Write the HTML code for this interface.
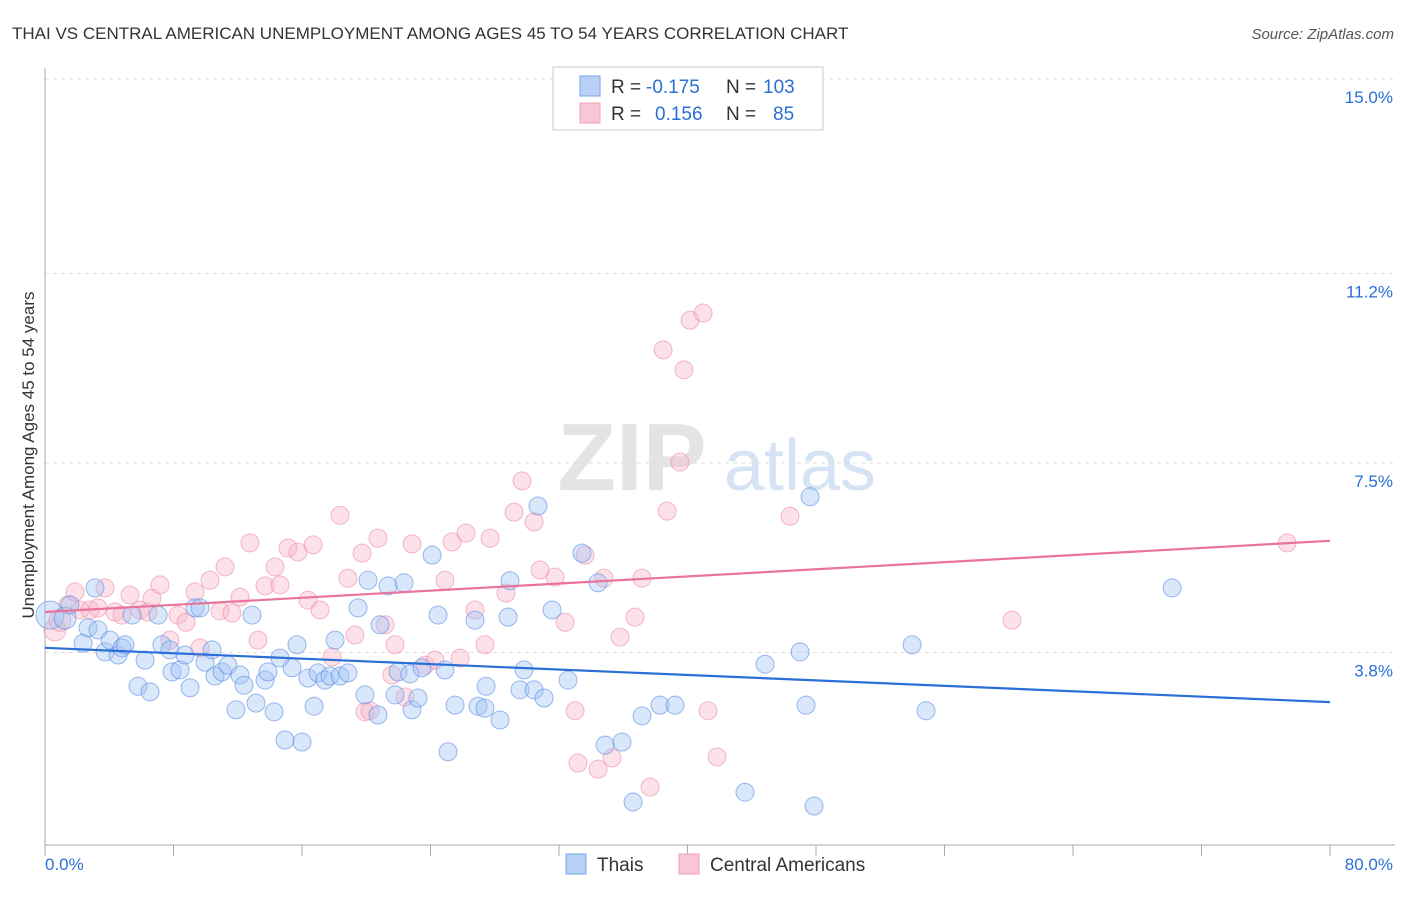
<!DOCTYPE html>
<html><head><meta charset="utf-8"><style>
body{margin:0;background:#fff;font-family:"Liberation Sans",sans-serif;}
svg text{font-family:"Liberation Sans",sans-serif;}
</style></head><body>
<svg id="chart" width="1406" height="892" viewBox="0 0 1406 892" xmlns="http://www.w3.org/2000/svg">
<text x="12" y="39" font-size="17" fill="#333">THAI VS CENTRAL AMERICAN UNEMPLOYMENT AMONG AGES 45 TO 54 YEARS CORRELATION CHART</text>
<text x="1394" y="39" font-size="15" fill="#555" text-anchor="end" font-style="italic">Source: ZipAtlas.com</text>
<g>
<text x="632" y="490" font-size="96" fill="#e4e4e4" text-anchor="middle" font-family="Liberation Serif,serif" font-weight="bold">ZIP</text>
<text x="800" y="490" font-size="72" fill="#d6e3f5" text-anchor="middle">atlas</text>
</g>
<g id="grid"></g>
<g id="axes"></g>
<g id="pts"></g>
<g id="lines"></g>
<text x="34" y="455" font-size="17" fill="#333" text-anchor="middle" transform="rotate(-90 34 455)">Unemployment Among Ages 45 to 54 years</text>
<g>
<rect x="553" y="67" width="270" height="63" fill="#fff" stroke="#ccc"/>
<rect x="580" y="76" width="20" height="20" fill="#b8d0f5" stroke="#7aa6e8"/>
<rect x="580" y="103" width="20" height="20" fill="#f9c6d6" stroke="#f0a0b8"/>
<text y="93" font-size="19" fill="#333"><tspan x="611">R =</tspan><tspan x="646" fill="#2a6fd6">-0.175</tspan><tspan x="726">N =</tspan><tspan x="763" fill="#2a6fd6">103</tspan></text>
<text y="120" font-size="19" fill="#333"><tspan x="611">R =</tspan><tspan x="655" fill="#2a6fd6">0.156</tspan><tspan x="726">N =</tspan><tspan x="773" fill="#2a6fd6">85</tspan></text>
</g>
<g>
<rect x="566" y="854" width="20" height="20" fill="#b8d0f5" stroke="#7aa6e8"/>
<text x="597" y="871" font-size="19" fill="#333">Thais</text>
<rect x="679" y="854" width="20" height="20" fill="#f9c6d6" stroke="#f0a0b8"/>
<text x="710" y="871" font-size="19" fill="#333">Central Americans</text>
</g>
</svg>
<script>
const yTicks=[15.0,11.2,7.5,3.8];
const yTickLabels=["15.0%","11.2%","7.5%","3.8%"];
const xTickLabels=["0.0%","80.0%"];
const thaiX=[0.31,1.25,1.56,2.37,2.68,3.11,3.30,3.74,4.05,4.55,4.79,4.98,5.42,5.79,6.23,6.54,7.04,7.28,7.78,7.91,8.41,8.72,9.03,9.34,9.65,9.96,10.40,10.58,11.02,11.39,11.89,12.14,12.39,12.89,13.14,13.70,13.88,14.26,14.63,14.94,15.38,15.69,16.00,16.37,16.75,17.00,17.43,17.74,18.06,18.37,18.86,19.49,19.92,20.11,20.73,20.86,21.36,21.79,21.98,22.35,22.72,22.85,23.22,23.47,24.10,24.47,24.90,25.09,25.53,26.77,26.96,27.39,27.46,28.33,28.83,28.95,29.57,29.82,30.45,30.69,31.07,31.57,32.56,33.43,34.43,34.87,35.92,36.61,37.17,38.29,39.22,43.58,44.83,47.01,47.38,47.63,47.88,53.98,54.85,70.17];
const thaiY=[4.53,4.47,4.73,3.98,4.28,5.06,4.24,3.81,4.04,3.75,3.89,3.95,4.53,3.14,3.65,3.03,4.53,3.95,3.85,3.42,3.46,3.75,3.11,4.67,4.67,3.61,3.85,3.34,3.42,3.55,2.68,3.36,3.16,4.53,2.81,3.26,3.42,2.64,3.69,2.09,3.50,3.95,2.05,3.30,2.75,3.40,3.26,3.34,4.04,3.34,3.40,4.67,2.97,5.21,2.58,4.34,5.10,2.97,3.42,5.16,3.38,2.68,2.91,3.50,5.70,4.53,3.46,1.86,2.77,4.43,2.75,2.71,3.14,2.48,4.49,5.20,3.07,3.46,3.07,6.66,2.91,4.63,3.26,5.74,5.16,1.99,2.05,0.88,2.56,2.77,2.77,1.07,3.57,3.81,2.77,6.84,0.80,3.95,2.66,5.06];
const camX=[0.62,0.93,1.43,1.87,2.18,2.80,3.30,3.74,4.36,4.79,5.29,5.91,6.41,6.66,7.16,7.78,8.28,8.78,9.34,9.65,10.27,10.90,11.21,11.64,12.14,12.76,13.26,13.70,14.32,14.63,15.13,15.75,16.37,16.69,17.12,17.87,18.37,18.86,19.30,19.74,19.92,20.23,20.73,21.17,21.60,21.79,22.41,22.85,23.66,24.28,24.90,25.34,25.84,26.21,26.77,27.39,27.71,28.70,29.20,29.70,30.45,30.82,31.75,32.38,33.00,33.18,33.62,34.43,34.80,35.30,35.80,36.73,37.17,37.67,38.48,38.73,39.53,39.78,40.16,40.97,41.28,41.84,46.38,60.20,77.33];
const camY=[4.24,4.43,4.73,4.98,4.63,4.63,4.67,5.06,4.59,4.53,4.92,4.63,4.59,4.86,5.12,4.04,4.53,4.39,4.98,3.89,5.21,4.61,5.47,4.57,4.88,5.94,4.04,5.10,5.47,5.12,5.84,5.76,4.82,5.90,4.63,3.71,6.48,5.25,4.14,5.74,2.64,2.66,6.03,4.34,3.36,3.95,2.93,5.92,3.55,3.65,5.21,5.96,3.69,6.13,4.63,3.95,6.03,4.96,6.54,7.15,6.35,5.41,5.27,4.39,2.66,1.64,5.70,1.52,5.25,1.74,4.10,4.49,5.25,1.17,9.71,6.56,7.52,9.32,10.29,10.43,2.66,1.76,6.46,4.43,5.94];
const thaiTrend=[3.89,2.83];
const camTrend=[4.59,5.98];
const X=v=>45+v/80*1285;
const Y=v=>847-v*51.2;
const NS="http://www.w3.org/2000/svg";
function mk(tag,attrs,parent){const e=document.createElementNS(NS,tag);for(const k in attrs)e.setAttribute(k,attrs[k]);parent.appendChild(e);return e;}
const grid=document.getElementById('grid'),axes=document.getElementById('axes');
yTicks.forEach((t,i)=>{
 const l=mk('line',{x1:45,x2:1395,y1:Y(t),y2:Y(t),stroke:'#ddd','stroke-dasharray':'4,4'},grid);
 
 
 const tx=mk('text',{x:1393,y:Y(t)+24,'font-size':17,fill:'#2a6fd6','text-anchor':'end'},axes);
 tx.textContent=yTickLabels[i];
 
 
});
mk('line',{x1:45,x2:45,y1:68,y2:845,stroke:'#aaa'},axes);
mk('line',{x1:45,x2:1395,y1:845,y2:845,stroke:'#aaa'},axes);
for(let i=0;i<=10;i++){
 const t=mk('line',{x1:X(i*8),x2:X(i*8),y1:845,y2:856,stroke:'#aaa'},axes);
 
 
}
[[0,45,'start'],[1,1393,'end']].forEach(([i,x,a])=>{
 const tx=mk('text',{x:x,y:870,'font-size':17,fill:'#2a6fd6','text-anchor':a},axes);
 tx.textContent=xTickLabels[i];
 
 
});
const pts=document.getElementById('pts');
function draw(xs,ys,fill,stroke,name){
 xs.forEach((x,i)=>{
  const r=i<2?(name==='thai-point'&&i===0?14:11):9;
  const c=mk('circle',{cx:X(x),cy:Y(ys[i]),r:r,fill:fill,stroke:stroke,'stroke-width':1},pts);
  
  
 });
}
draw(camX,camY,'rgba(248,180,200,0.4)','rgba(236,140,170,0.6)','central-american-point');
draw(thaiX,thaiY,'rgba(160,195,245,0.4)','rgba(90,140,225,0.6)','thai-point');
const lines=document.getElementById('lines');
const l1=mk('line',{x1:X(0),y1:Y(thaiTrend[0]),x2:X(80),y2:Y(thaiTrend[1]),stroke:'#2a6fd6','stroke-width':2.2},lines);


const l2=mk('line',{x1:X(0),y1:Y(camTrend[0]),x2:X(80),y2:Y(camTrend[1]),stroke:'#e8739b','stroke-width':2.2},lines);


</script>
</body></html>
